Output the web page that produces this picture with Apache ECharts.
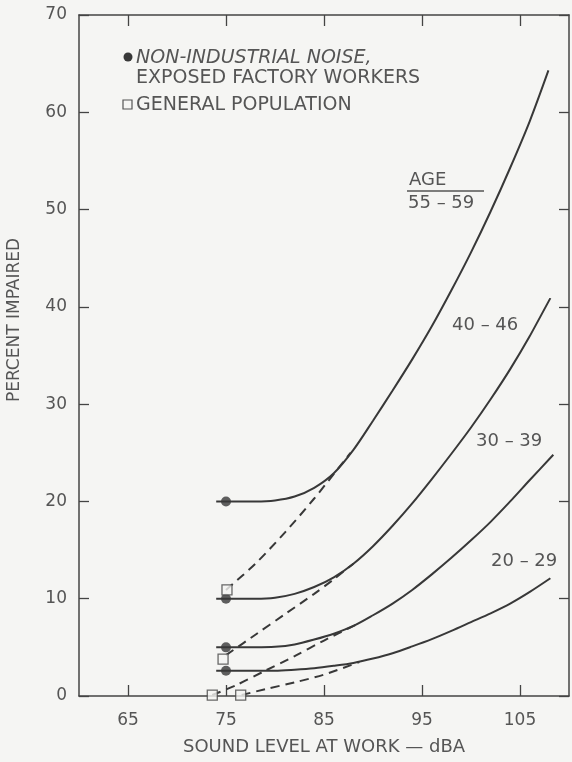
<!DOCTYPE html>
<html>
<head>
<meta charset="utf-8">
<script src="https://cdn.jsdelivr.net/npm/echarts@6/dist/echarts.min.js"></script>
<style>
    html,body{margin:0;padding:0;background:#f5f5f3;}
    #main{width:572px;height:762px;}
</style>
</head>
<body>
<div id="main"></div>
<script>
    // tick values
    const xTicks = [65, 75, 85, 95, 105];

    // solid curves, non-industrial noise exposed workers [dBA, percent]
    const age5559 = [[74,20],[75,20],[78,20],[80,20.1],[82,20.5],[84,21.4],[86,22.9],[88,25.3],[90,28.3],[92,31.4],[94,34.6],[96,38],[98,41.7],[100,45.6],[102,49.8],[104,54.3],[106,59.1],[107.9,64.3]];
    const age4046 = [[74,10],[75,10],[78,10],[80,10.1],[82,10.5],[84,11.2],[86,12.2],[88,13.6],[90,15.4],[92,17.5],[94,19.8],[96,22.3],[98,24.9],[100,27.6],[102,30.5],[104,33.6],[106,37],[108.1,40.9]];
    const age3039 = [[74,5],[75,5],[78,5],[80,5.05],[82,5.3],[84,5.8],[86,6.4],[88,7.2],[90,8.3],[92,9.5],[94,10.9],[96,12.5],[98,14.2],[100,16],[102,17.9],[104,20],[106,22.2],[108.4,24.8]];
    const age2029 = [[74,2.6],[75,2.6],[78,2.6],[80,2.6],[82,2.7],[84,2.85],[86,3.1],[88,3.4],[90,3.85],[92,4.4],[94,5.1],[96,5.85],[98,6.7],[100,7.6],[102,8.5],[104,9.5],[106,10.7],[108.1,12.1]];

    // dashed curves, general population
    const gen5559 = [[75,10.9],[78,13.6],[81,16.8],[84,20.3],[87.7,25]];
    const gen4046 = [[75,4.2],[78,6.3],[81,8.4],[84,10.5],[86,12],[88,13.6]];
    const gen3039 = [[73.6,0.1],[76,1.1],[79,2.6],[82,4.1],[85,5.7],[88.4,7.4]];
    const gen2029 = [[76.6,0.1],[79,0.7],[82,1.4],[85,2.2],[88.6,3.5]];

    // plotted points
    const workerPoints = [[75,20],[75,10],[75,5],[75,2.6]];
    const generalPoints = [[75.1,10.9],[74.7,3.8],[73.6,0.1],[76.5,0.1]];

    const ink = '#383838';
    const textColor = '#555';
    const font = 'DejaVu Sans';
    const bg = '#f5f5f3';

    function solidLine(name, data){
        return {
            name: name, type: 'line', data: data,
            smooth: 0.3, showSymbol: false, z: 3,
            lineStyle: {color: ink, width: 2}
        };
    }
    function dashedLine(name, data){
        return {
            name: name, type: 'line', data: data,
            smooth: 0.3, showSymbol: false, z: 3,
            lineStyle: {color: ink, width: 2, type: [9, 6]}
        };
    }

    function axisX(pos, showLabel){
        return {
            type: 'value', min: 60, max: 110, position: pos,
            axisLine: {show: true, onZero: false, lineStyle: {color: '#444', width: 1.5}},
            axisTick: {show: true, inside: true, length: 11, customValues: xTicks, lineStyle: {color: '#444', width: 1.3}},
            axisLabel: {show: showLabel, customValues: xTicks, margin: 16, color: textColor, fontSize: 17, fontFamily: font},
            splitLine: {show: false}
        };
    }
    function axisY(pos, showLabel){
        return {
            type: 'value', min: 0, max: 70, interval: 10, position: pos,
            axisLine: {show: true, onZero: false, lineStyle: {color: '#444', width: 1.5}},
            axisTick: {show: true, inside: true, length: 10, lineStyle: {color: '#444', width: 1.3}},
            axisLabel: {show: showLabel, margin: 12, color: textColor, fontSize: 17, fontFamily: font},
            splitLine: {show: false}
        };
    }

    function label(text, x, y, extra){
        return {
            type: 'text', x: x, y: y, z: 10,
            style: Object.assign({text: text, fill: textColor, font: '18px "DejaVu Sans"', verticalAlign: 'middle'}, extra || {})
        };
    }

    let xAxisBottom = axisX('bottom', true);
    xAxisBottom.name = 'SOUND LEVEL AT WORK \u2014 dBA';
    xAxisBottom.nameLocation = 'middle';
    xAxisBottom.nameGap = 42;
    xAxisBottom.nameTextStyle = {color: textColor, fontSize: 18, fontFamily: font};

    let option = {
        backgroundColor: bg,
        animation: false,
        grid: {left: 79, right: 3, top: 15, bottom: 66},
        xAxis: [xAxisBottom, axisX('top', false)],
        yAxis: [axisY('left', true), axisY('right', false)],
        series: [
            solidLine('55 - 59', age5559),
            solidLine('40 - 46', age4046),
            solidLine('30 - 39', age3039),
            solidLine('20 - 29', age2029),
            dashedLine('55 - 59 general', gen5559),
            dashedLine('40 - 46 general', gen4046),
            dashedLine('30 - 39 general', gen3039),
            dashedLine('20 - 29 general', gen2029),
            {
                name: 'NON-INDUSTRIAL NOISE, EXPOSED FACTORY WORKERS',
                type: 'scatter', data: workerPoints, symbol: 'circle', symbolSize: 10, z: 5,
                itemStyle: {color: ink}
            },
            {
                name: 'GENERAL POPULATION',
                type: 'scatter', data: generalPoints, symbol: 'rect', symbolSize: 10, z: 6, clip: false,
                itemStyle: {color: bg, borderColor: '#444', borderWidth: 1.3}
            }
        ],
        graphic: [
            // y axis title
            {
                type: 'text', x: 15, y: 320, rotation: Math.PI / 2, z: 10,
                style: {text: 'PERCENT IMPAIRED', fill: textColor, font: '17px "DejaVu Sans"', align: 'center', verticalAlign: 'middle'}
            },
            // key
            {type: 'circle', shape: {cx: 128, cy: 57, r: 4.5}, style: {fill: ink}, z: 10},
            label('NON-INDUSTRIAL NOISE,', 136, 58, {font: 'italic 19px "DejaVu Sans"'}),
            label('EXPOSED FACTORY WORKERS', 136, 78, {font: '19px "DejaVu Sans"'}),
            {type: 'rect', shape: {x: 123, y: 100, width: 9, height: 9}, style: {fill: bg, stroke: '#555', lineWidth: 1.2}, z: 10},
            label('GENERAL POPULATION', 136, 105, {font: '19px "DejaVu Sans"'}),
            // curve labels
            label('AGE', 409, 180),
            {type: 'line', shape: {x1: 407, y1: 191, x2: 484, y2: 191}, style: {stroke: '#555', lineWidth: 1.5}, z: 10},
            label('55 \u2013 59', 408, 203),
            label('40 \u2013 46', 452, 325),
            label('30 \u2013 39', 476, 441),
            label('20 \u2013 29', 491, 561)
        ]
    };

    window.onload = ()=>{
        let chart = echarts.init(document.getElementById('main'));
        chart.setOption(option);
    }
</script>
</body>
</html>
